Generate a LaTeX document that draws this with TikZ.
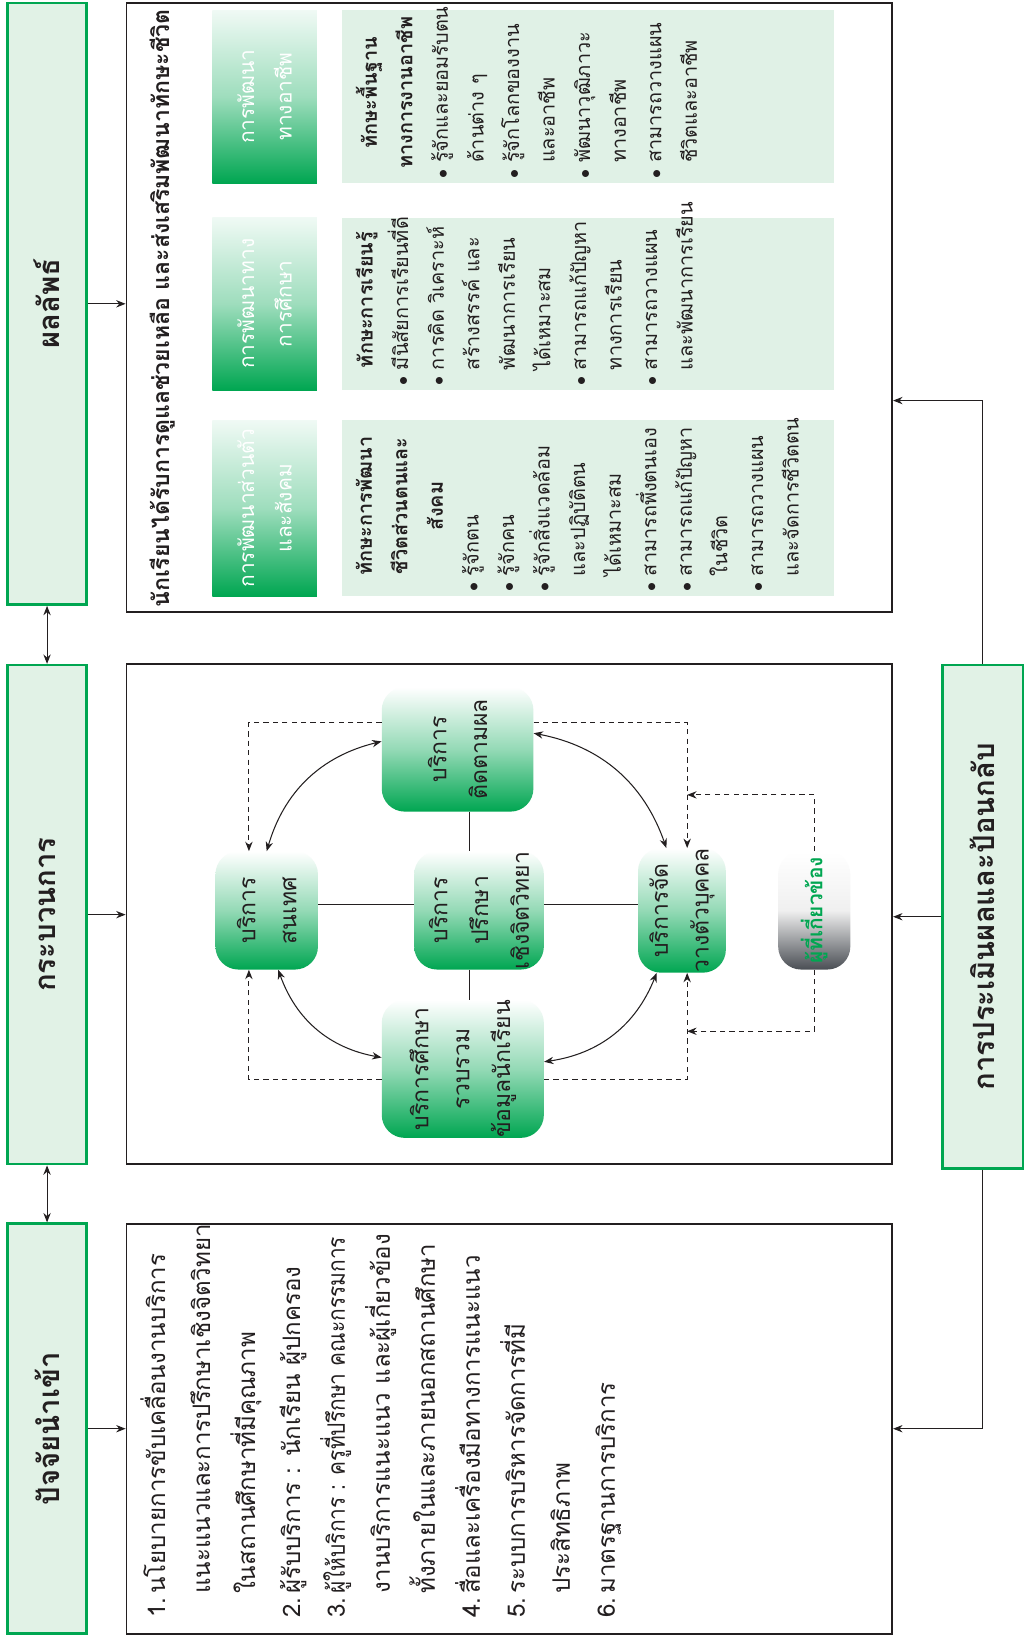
\documentclass[tikz,border=0pt]{standalone}
\usepackage{fontspec}
\setmainfont[Script=Thai]{Loma}
\usetikzlibrary{arrows.meta}
\definecolor{tgreen}{HTML}{00A651}
\definecolor{lgreen}{HTML}{E1F2E6}
\definecolor{boxgreen}{HTML}{E0F1E6}
\definecolor{dark}{HTML}{231F20}
\definecolor{relgray}{HTML}{4A4E54}
\newcommand{\bul}{\makebox[15pt][l]{$\bullet$}}
\newcommand{\ind}{\hspace*{15pt}}
\newcommand{\hd}[1]{\hspace*{15pt}\makebox[134pt]{\bfseries #1}}
\newcommand{\num}[1]{\makebox[23pt][l]{#1}}
\newcommand{\nind}{\hspace*{23pt}}
\begin{document}
\begin{tikzpicture}[x=1pt,y=1pt,
  wh/.style 2 args={minimum width=#1, minimum height=#2},
  hdr/.style={draw=tgreen, line width=2.5pt, fill=lgreen, inner sep=0pt, text=dark, font=\fontsize{28}{34}\selectfont\bfseries},
  big/.style={draw=dark, line width=1.8pt, fill=white, inner sep=0pt},
  band/.style={inner sep=0pt, top color=tgreen!6!white, bottom color=tgreen, middle color=tgreen!38!white, text=white, align=center, font=\fontsize{20}{36}\selectfont},
  cbox/.style={fill=boxgreen, inner sep=0pt},
  ctext/.style={anchor=north west, inner sep=0pt, align=left, text=dark, font=\fontsize{19}{34}\selectfont},
  svc/.style={rounded corners=22pt, top color=white, bottom color=tgreen, middle color=tgreen!42!white, inner sep=0pt, align=center, text=dark, font=\fontsize{22}{39}\selectfont},
  conn/.style={draw=dark, line width=1pt},
  arr/.style={conn, -{Stealth[length=9pt,width=7pt]}},
  darr/.style={conn, {Stealth[length=9pt,width=7pt]}-{Stealth[length=9pt,width=7pt]}},
  dsh/.style={conn, dash pattern=on 5pt off 4pt, -{Stealth[length=9pt,width=7pt]}},
]
\fill[white] (-980,0) rectangle (0,1568);
\useasboundingbox (-980,0) rectangle (0,1568);
\begin{scope}[rotate=90, transform shape]
% header row
\node[hdr, wh={575}{76}] (hOut) at (1277.5,935) {ผลลัพธ์};
\node[hdr, wh={477}{76}] (hProc) at (693.5,935) {กระบวนการ};
\node[hdr, wh={392}{76}] (hIn) at (202,935) {ปัจจัยนำเข้า};
% big boxes
\node[big, wh={582}{732}] (bOut) at (1274,493) {};
\node[big, wh={478}{732}] (bProc) at (694,493) {};
\node[big, wh={392}{732}] (bIn) at (202,493) {};
% evaluation
\node[hdr, wh={481}{77}] (eval) at (691.5,40.5) {การประเมินผลและป้อนกลับ};
% header connectors
\draw[arr] (hOut.south) -- (hOut.south |- bOut.north);
\draw[arr] (hProc.south) -- (hProc.south |- bProc.north);
\draw[arr] (hIn.south) -- (hIn.south |- bIn.north);
\draw[darr] (hIn.east) -- (hProc.west);
\draw[darr] (hProc.east) -- (hOut.west);
% evaluation connectors
\coordinate (kO) at (1185,0);
\draw[arr] (eval.east) -- (kO |- eval.east) -- (kO |- bOut.south);
\draw[arr] (eval.north) -- (eval.north |- bProc.south);
\draw[arr] (eval.west) -- (bIn.south |- eval.west) -- (bIn.south);
% input list
\node[anchor=north west, inner sep=0pt, align=left, text=dark, font=\fontsize{23}{43}\selectfont] (tIn) at (21,846) {%
\num{1.}นโยบายการขับเคลื่อนงานบริการ\\
\nind แนะแนวและการปรึกษาเชิงจิตวิทยา\\
\nind ในสถานศึกษาที่มีคุณภาพ\\
\num{2.}ผู้รับบริการ : นักเรียน ผู้ปกครอง\\
\num{3.}\scalebox{0.87}[1]{ผู้ให้บริการ : ครูที่ปรึกษา คณะกรรมการ}\\
\nind งานบริการแนะแนว และผู้เกี่ยวข้อง\\
\nind ทั้งภายในและภายนอกสถานศึกษา\\
\num{4.}สื่อและเครื่องมือทางการแนะแนว\\
\num{5.}ระบบการบริหารจัดการที่มี\\
\nind ประสิทธิภาพ\\
\num{6.}มาตรฐานการบริการ};
% outcome box
\node[inner sep=0pt, text=dark, font=\fontsize{22}{26}\selectfont\bfseries] (tTitle) at (1273,825) {นักเรียนได้รับการดูแลช่วยเหลือ และส่งเสริมพัฒนาทักษะชีวิต};
\node[band, wh={168}{100}] (gA) at (1082,727) {การพัฒนาส่วนตัว\\และสังคม};
\node[band, wh={165}{100}] (gB) at (1277.5,727) {การพัฒนาทาง\\การศึกษา};
\node[band, wh={165}{100}] (gC) at (1475.5,727) {การพัฒนา\\ทางอาชีพ};
\node[cbox, wh={168}{470}] (cA) at (1082,418) {};
\node[cbox, wh={165}{470}] (cB) at (1277.5,418) {};
\node[cbox, wh={165}{470}] (cC) at (1475.5,418) {};
\node[ctext] (xA) at (1002,640) {%
\hd{ทักษะการพัฒนา}\\
\hd{ชีวิตส่วนตนและ}\\
\hd{สังคม}\\
\bul รู้จักตน\\
\bul รู้จักคน\\
\bul รู้จักสิ่งแวดล้อม\\
\ind และปฏิบัติตน\\
\ind ได้เหมาะสม\\
\bul สามารถพึ่งตนเอง\\
\bul สามารถแก้ปัญหา\\
\ind ในชีวิต\\
\bul สามารถวางแผน\\
\ind และจัดการชีวิตตน};
\node[ctext] (xB) at (1199,640) {%
\hd{ทักษะการเรียนรู้}\\
\bul มีนิสัยการเรียนที่ดี\\
\bul การคิด วิเคราะห์\\
\ind สร้างสรรค์ และ\\
\ind พัฒนาการเรียน\\
\ind ได้เหมาะสม\\
\bul สามารถแก้ปัญหา\\
\ind ทางการเรียน\\
\bul สามารถวางแผน\\
\ind และพัฒนาการเรียน};
\node[ctext] (xC) at (1397,640) {%
\hd{ทักษะพื้นฐาน}\\
\hd{ทางการงานอาชีพ}\\
\bul รู้จักและยอมรับตน\\
\ind ด้านต่าง ๆ\\
\bul รู้จักโลกของงาน\\
\ind และอาชีพ\\
\bul พัฒนาวุฒิภาวะ\\
\ind ทางอาชีพ\\
\bul สามารถวางแผน\\
\ind ชีวิตและอาชีพ};
% process diagram
\node[svc, wh={119}{145}] (nFollow) at (851.5,542.5) {บริการ\\ติดตามผล};
\node[svc, wh={113}{98}] (nInfo) at (697.5,725) {บริการ\\สนเทศ};
\node[svc, wh={113}{124}] (nCouns) at (697.5,522) {บริการ\\ปรึกษา\\เชิงจิตวิทยา};
\node[svc, wh={113}{84}] (nPlace) at (697.5,328) {บริการจัด\\วางตัวบุคคล};
\node[svc, wh={126}{155}] (nStudy) at (546,537.5) {บริการศึกษา\\รวบรวม\\ข้อมูลนักเรียน};
\node[svc, wh={113}{69}, bottom color=relgray, middle color=gray!12, text=tgreen, font=\fontsize{20}{24}\selectfont\bfseries] (nRel) at (697.5,201.5) {ผู้ที่เกี่ยวข้อง};
\coordinate (vx) at (0,531);
\coordinate (hx) at (703,0);
\draw[conn] (vx -| nFollow.west) -- (vx -| nCouns.east);
\draw[conn] (vx -| nCouns.west) -- (vx -| nStudy.east);
\draw[conn] (hx |- nInfo.south) -- (hx |- nCouns.north);
\draw[conn] (hx |- nCouns.south) -- (hx |- nPlace.north);
\draw[darr] (nFollow.84) to[bend right=30] (nInfo.east);
\draw[darr] (nFollow.-78) to[bend left=30] (nPlace.14);
\draw[darr] (nInfo.191) to[bend right=30] (nStudy.82);
\draw[darr] (nPlace.158) to[bend left=30] (nStudy.-85);
\coordinate (kA) at (877,742);
\coordinate (kB) at (877,323);
\coordinate (kC) at (536,742);
\coordinate (kD) at (536,323);
\coordinate (kE) at (808,323);
\coordinate (kF) at (582,323);
\draw[dsh] (kA |- nFollow.north) -- (kA) -- (kA -| nInfo.east);
\draw[dsh] (kB |- nFollow.south) -- (kB) -- (kB -| nPlace.east);
\draw[dsh] (kC |- nStudy.north) -- (kC) -- (kC -| nInfo.west);
\draw[dsh] (kD |- nStudy.south) -- (kD) -- (kD -| nPlace.west);
\draw[dsh] (nRel.east) -- (kE |- nRel.east) -- (kE);
\draw[dsh] (nRel.west) -- (kF |- nRel.west) -- (kF);
\end{scope}
\end{tikzpicture}
\end{document}
